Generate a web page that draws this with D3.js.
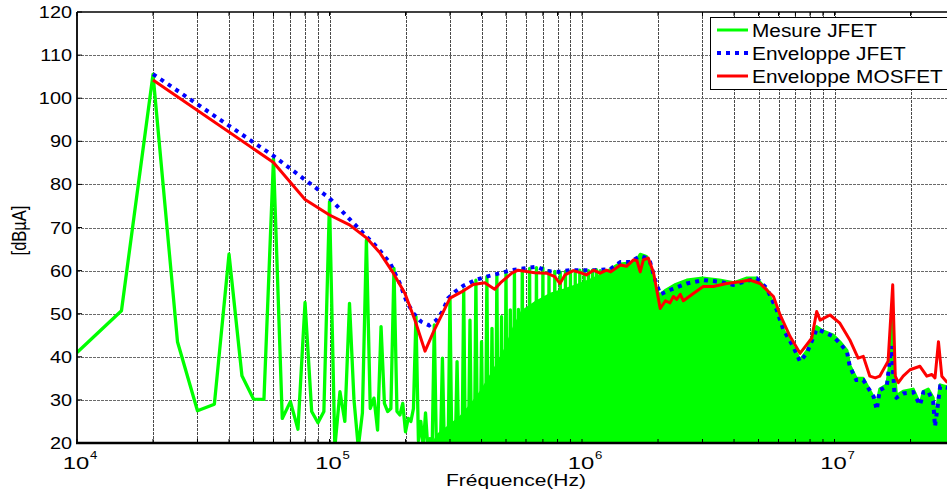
<!DOCTYPE html>
<html>
<head>
<meta charset="utf-8">
<script src="https://cdn.jsdelivr.net/npm/d3@7"></script>
<style>
  html, body { margin: 0; padding: 0; background: #fff; }
  svg { display: block; font-family: "Liberation Sans", Arial, Helvetica, sans-serif; }
</style>
</head>
<body>
<svg id="chart" width="947" height="492"></svg>
<script>
// ---- Mesure JFET : raies individuelles en basse fréquence (kHz, dBµA) ----
const mesureFreq = [10, 15, 20, 25, 30, 35, 40, 45, 50, 55, 60, 65, 70, 75, 80, 85, 90, 95, 100,
  105, 110, 115, 120, 125, 130, 135, 140, 145, 150, 155, 160, 165, 170, 175, 180, 185, 190, 195,
  200, 205, 210, 215, 220, 225, 230, 235, 240, 245, 250, 255];
const mesureVal = [41.0, 50.7, 105.5, 43.5, 27.5, 29.0, 63.8, 35.6, 30.2, 30.1, 86.0, 25.7, 29.6, 23.2, 52.6, 27.3, 24.7, 27.3, 76.0,
  19, 31.9, 25.0, 52.4, 30.0, 19, 27.0, 67.1, 28.0, 30.4, 23.0, 47.0, 29.2, 27.3, 28.0, 60.5, 27.3, 26.5, 29.2,
  22.6, 25.7, 25.0, 28.0, 49.4, 20.5, 25.0, 19, 27.0, 19, 21.0, 19];

// ---- Mesure JFET : harmoniques du peigne dense (kHz, dBµA) ----
const raiesFreq = [260, 280, 300, 320, 340, 360, 380, 400, 420, 440, 460, 480, 500, 520, 540, 560,
  580, 620, 660, 700, 740, 780, 820, 860, 900, 940, 980, 1020, 1060, 1100, 1140, 1180, 1220];
const raiesVal = [47.4, 39.7, 53.6, 38.9, 55.5, 48.5, 57.8, 43.5, 58.6, 46.6, 59.0, 49.3, 59.7, 50.9, 59.7, 51.0,
  60.2, 60.5, 60.7, 60.6, 60.0, 59.8, 59.6, 59.8, 59.9, 60.0, 60.1, 60.1, 60.0, 60.1, 60.2, 60.0, 60.3];

// ---- Mesure JFET : sommet de la zone pleine (kHz, dBµA) ----
const fondFreq = [258, 270, 300, 330, 360, 400, 450, 500, 540, 580, 650, 750, 850, 950, 1050, 1150, 1250,
  1400, 1550, 1650, 1700, 1800, 1870, 1950, 2030, 2150, 2350, 2600, 3000, 3500, 4000, 4500, 4900,
  5400, 5900, 6300, 6900, 7300, 7800, 8500, 9000, 9900, 10500, 11200, 11500, 12200, 13000, 14000,
  14700, 15100, 16100, 16700, 16900, 17200, 17600, 18700, 20500, 21800, 22500, 23500, 24600, 25000,
  26200, 28000, 30000];
const fondVal = [20, 22, 24, 26, 28.5, 32, 37, 42, 47, 50.5, 52.5, 54.5, 55.5, 56.5, 57.5, 58.5, 59.7,
  61.5, 61.8, 62.5, 63.8, 63.3, 61.0, 56.0, 54.3, 55.5, 56.8, 57.8, 58.3, 57.8, 57.2, 58.3, 58.3,
  55.5, 50.5, 46.0, 42.0, 39.2, 41.5, 47.0, 46.0, 45.0, 43.5, 41.5, 38.0, 35.0, 35.0, 31.5,
  29.0, 32.5, 33.5, 40.0, 50.0, 38.0, 31.0, 32.0, 32.5, 29.0, 32.0, 32.5, 30.5, 25.0,
  33.5, 33.0, 33.0];

// ---- Enveloppe JFET (kHz, dBµA) ----
const envJFreq = [20, 60, 100, 140, 154, 174, 190, 202, 215, 230, 248, 265, 280, 295, 314, 339, 377, 419,
  473, 527, 585, 661, 724, 805, 896, 997, 1120, 1290, 1420, 1550, 1700, 1820, 1860, 1950, 2040, 2100,
  2230, 2600, 3020, 3520, 3970, 4630, 4920, 5390, 5900, 6270, 6870, 7300, 7760, 8500, 9030, 9900,
  10500, 11200, 11500, 12200, 13000, 14300, 14700, 15100, 16100, 16800, 17300, 17600, 18700, 20500,
  21800, 22500, 23500, 24600, 25000, 26200, 28000, 30000];
const envJVal = [105.6, 86.6, 76.8, 67.9, 65.5, 61.7, 57.0, 52.8, 50.1, 48.2, 47.3, 48.5, 50.5, 53.6, 55.1, 56.5, 57.8, 58.6,
  59.4, 60.1, 60.5, 60.9, 59.9, 59.7, 60.1, 60.1, 60.1, 60.3, 62.0, 62.0, 63.4, 62.8, 62.0, 57.8, 54.5, 54.8,
  55.5, 57.0, 57.8, 57.4, 56.7, 57.8, 58.2, 55.9, 50.9, 46.3, 42.3, 38.9, 40.8, 46.4, 45.8, 44.7,
  43.1, 41.2, 37.7, 34.6, 34.6, 30.7, 27.7, 32.3, 33.1, 42.5, 31.0, 30.5, 31.5, 31.8,
  28.8, 31.8, 32.0, 29.5, 23.8, 33.1, 32.8, 32.5];

// ---- Enveloppe MOSFET (kHz, dBµA) ----
const envMFreq = [20, 60, 80, 100, 120, 140, 158, 179, 199, 218, 239, 258, 300, 339, 371, 412, 451, 480,
  527, 558, 650, 724, 780, 818, 856, 924, 997, 1040, 1110, 1180, 1250, 1300, 1420, 1500, 1600, 1650,
  1700, 1750, 1830, 1920, 2040, 2140, 2230, 2300, 2370, 2450, 2520, 2760, 3020, 3310, 3740, 4220,
  4630, 5070, 5730, 6090, 6670, 7300, 8120, 8500, 8770, 9600, 10500, 11500, 12400, 13000, 13800,
  14500, 15100, 16300, 17000, 17400, 17900, 18700, 19900, 21800, 23200, 24300, 25000, 25800,
  26600, 27800, 30000];
const envMVal = [104.2, 85.1, 76.5, 72.9, 70.6, 67.6, 64.2, 59.4, 54.7, 48.5, 41.3, 45.8, 53.6, 55.3, 56.8, 57.2, 55.7, 57.4,
  59.4, 60.1, 59.5, 59.4, 58.6, 57.0, 59.0, 60.0, 59.4, 59.0, 60.1, 59.4, 60.1, 59.7, 61.3, 61.0, 62.5, 62.3,
  59.7, 62.5, 62.9, 59.5, 51.2, 53.0, 52.5, 54.0, 53.3, 54.5, 53.0, 54.7, 56.3, 56.3, 57.0, 57.4,
  57.8, 57.0, 54.0, 49.7, 44.7, 40.8, 44.3, 50.5, 48.5, 49.7, 47.8, 43.9, 39.7, 40.1, 35.5,
  35.1, 35.5, 39.0, 56.7, 35.5, 34.0, 35.5, 37.0, 37.8, 35.5, 35.9, 35.1, 43.5,
  35.5, 34.2, 33.5];

// ---- Axes ----
const yTicks = [20, 30, 40, 50, 60, 70, 80, 90, 100, 110, 120];
const xDecades = [4, 5, 6, 7];
const legendLabels = ["Mesure JFET", "Enveloppe JFET", "Enveloppe MOSFET"];
const xLabel = "Fréquence(Hz)";
const yLabel = "[dBµA]";

const svg = d3.select("#chart");
const box = { left: 77, top: 12, bottom: 443, right: 955 };

const x = d3.scaleLog().domain([1e4, 3e7]).range([box.left, box.right]);
const y = d3.scaleLinear().domain([20, 120]).range([box.bottom, box.top]);
const snap = v => Math.round(v) + 0.5;

const pts = (fs, vs) => fs.map((f, i) => [f * 1e3, vs[i]]);

// clip to the axes box
svg.append("defs").append("clipPath").attr("id", "plot")
  .append("rect").attr("x", box.left).attr("y", box.top)
  .attr("width", box.right - box.left).attr("height", box.bottom - box.top);

// ---- Grid (dotted, as in the original figure) ----
const minorTicks = [];
for (let k = 4; k <= 7; k++) for (let m = 1; m <= 9; m++) {
  const v = m * Math.pow(10, k);
  if (v >= 1e4 && v <= 3e7) minorTicks.push(v);
}
const grid = svg.append("g").attr("shape-rendering", "crispEdges")
  .attr("stroke", "#4a4a4a").attr("stroke-width", 1).attr("stroke-dasharray", "3,1");
grid.selectAll("line.v").data(minorTicks.slice(1)).join("line")
  .attr("x1", d => snap(x(d))).attr("x2", d => snap(x(d))).attr("y1", box.top).attr("y2", box.bottom);
grid.selectAll("line.h").data(yTicks.slice(1, -1)).join("line")
  .attr("x1", box.left).attr("x2", box.right).attr("y1", d => snap(y(d))).attr("y2", d => snap(y(d)))
  .attr("stroke", "#6a6a6a");

// ---- Data ----
const plot = svg.append("g").attr("clip-path", "url(#plot)");
const line = d3.line().x(d => x(d[0])).y(d => y(d[1]));
const GREEN = "#00ff00", BLUE = "#0000ff", RED = "#ff0000";

// dense part of the measurement : filled from the axis floor
const area = d3.area().x(d => x(d[0])).y0(y(y.domain()[0])).y1(d => y(d[1]));
plot.append("path").datum(pts(fondFreq, fondVal))
  .attr("d", area).attr("fill", GREEN).attr("stroke", GREEN).attr("stroke-width", 3)
  .attr("stroke-linejoin", "round");

// comb harmonics (5 kHz resolution either side of each line)
const floor = y.domain()[0] - 1;
plot.append("g").selectAll("path").data(raiesFreq).join("path")
  .attr("d", (f, i) => line([[(f - 5) * 1e3, floor], [f * 1e3, raiesVal[i]], [(f + 5) * 1e3, floor]]))
  .attr("fill", "none").attr("stroke", GREEN).attr("stroke-width", 3.3).attr("stroke-linejoin", "round");

// low-frequency measurement trace
plot.append("path").datum(pts(mesureFreq, mesureVal))
  .attr("d", line).attr("fill", "none").attr("stroke", GREEN).attr("stroke-width", 3.3)
  .attr("stroke-linejoin", "round");

// envelopes
plot.append("path").datum(pts(envJFreq, envJVal))
  .attr("d", line).attr("fill", "none").attr("stroke", BLUE).attr("stroke-width", 4)
  .attr("stroke-dasharray", "4,5");
plot.append("path").datum(pts(envMFreq, envMVal))
  .attr("d", line).attr("fill", "none").attr("stroke", RED).attr("stroke-width", 3)
  .attr("stroke-linejoin", "round");

// ---- Axes frame and ticks ----
const frame = svg.append("g").attr("stroke", "#000");
frame.append("line").attr("x1", box.left).attr("x2", box.right).attr("y1", box.top).attr("y2", box.top).attr("stroke-width", 1.5);
frame.append("line").attr("x1", box.left).attr("x2", box.left).attr("y1", box.top).attr("y2", box.bottom).attr("stroke-width", 1.8);
frame.append("line").attr("x1", box.left - 1).attr("x2", box.right).attr("y1", box.bottom).attr("y2", box.bottom).attr("stroke-width", 2.5);
frame.selectAll("line.tb").data(minorTicks).join("line")
  .attr("x1", d => x(d)).attr("x2", d => x(d)).attr("y1", box.bottom).attr("y2", box.bottom - 4).attr("stroke-width", 1);
frame.selectAll("line.tt").data(minorTicks).join("line")
  .attr("x1", d => x(d)).attr("x2", d => x(d)).attr("y1", box.top).attr("y2", box.top + 4).attr("stroke-width", 1);
frame.selectAll("line.tl").data(yTicks).join("line")
  .attr("x1", box.left).attr("x2", box.left + 5).attr("y1", d => y(d)).attr("y2", d => y(d)).attr("stroke-width", 1);

// ---- Tick labels ----
const SX = 1.22;
svg.append("g").selectAll("text").data(yTicks).join("text")
  .attr("transform", d => `translate(72,${y(d) + 6}) scale(${SX},1)`)
  .attr("text-anchor", "end").attr("font-size", 16.3).attr("fill", "#000")
  .text(d => d);

const xl = svg.append("g");
xDecades.forEach(k => {
  const px = x(Math.pow(10, k));
  xl.append("text")
    .attr("transform", `translate(${px - 1},469) scale(1.4,1)`)
    .attr("text-anchor", "middle").attr("font-size", 17).text("10");
  xl.append("text")
    .attr("transform", `translate(${px + 13},459) scale(1.2,1)`)
    .attr("text-anchor", "start").attr("font-size", 11).text(k);
});

// axis titles
svg.append("text")
  .attr("transform", `translate(${(box.left + box.right) / 2},486) scale(1.25,1)`)
  .attr("text-anchor", "middle").attr("font-size", 16.8).text(xLabel);
svg.append("text")
  .attr("transform", `translate(26,${(box.top + box.bottom) / 2 + 3}) rotate(-90) scale(1,1.22)`)
  .attr("text-anchor", "middle").attr("font-size", 16.5).text(yLabel);

// ---- Legend ----
const lg = svg.append("g");
lg.append("rect").attr("x", 710.5).attr("y", 17.5).attr("width", 250).attr("height", 72)
  .attr("fill", "#fff").attr("stroke", "#000").attr("stroke-width", 1);
const legStyles = [
  { c: GREEN, w: 3, dash: null },
  { c: BLUE, w: 4, dash: "4,5" },
  { c: RED, w: 3, dash: null }
];
legendLabels.forEach((lab, i) => {
  const ly = 30 + i * 23;
  lg.append("line").attr("x1", 717).attr("x2", 748).attr("y1", ly).attr("y2", ly)
    .attr("stroke", legStyles[i].c).attr("stroke-width", legStyles[i].w)
    .attr("stroke-dasharray", legStyles[i].dash);
  lg.append("text").attr("transform", `translate(752,${ly + 7}) scale(1.19,1)`)
    .attr("font-size", 17.5).text(lab);
});
</script>
</body>
</html>
